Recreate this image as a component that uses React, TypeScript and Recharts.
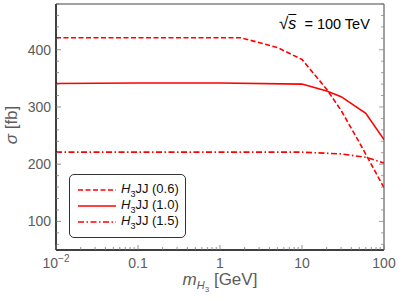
import { LineChart, Line, XAxis, YAxis, Legend } from 'recharts';

// sigma [fb] vs m_H3 [GeV], sqrt(s) = 100 TeV
const massA = [0.01, 0.1, 1, 1.8, 5, 10, 20, 30, 50, 100];
const sigmaA = [421, 421, 421, 421, 404, 383, 331, 294, 238, 159];

const massB = [0.01, 0.1, 1, 10, 20, 30, 60, 100];
const sigmaB = [341, 342, 342, 340, 328, 318, 289, 243];

const massC = [0.01, 0.1, 1, 10, 30, 60, 100];
const sigmaC = [221, 221, 221, 221, 218, 212, 202];

const seriesNames = ['(0.6)', '(1.0)', '(1.5)'];
const dashes = ['5 2.5', '', '6 2.5 1.5 2.5'];

const xMajor = [0.01, 0.1, 1, 10, 100];
const xMinor = [0.02, 0.03, 0.04, 0.05, 0.06, 0.07, 0.08, 0.09, 0.2, 0.3, 0.4, 0.5, 0.6, 0.7, 0.8, 0.9,
  2, 3, 4, 5, 6, 7, 8, 9, 20, 30, 40, 50, 60, 70, 80, 90];
const yMajor = [100, 200, 300, 400];
const yMinor = [60, 80, 120, 140, 160, 180, 220, 240, 260, 280, 320, 340, 360, 380, 420, 440, 460, 480];

const xTicks = [...xMajor, ...xMinor].sort((a, b) => a - b);
const yTicks = [...yMajor, ...yMinor].sort((a, b) => a - b);

const toRows = (xs: number[], ys: number[]) => xs.map((m, i) => ({ m, s: ys[i] }));
const rowsA = toRows(massA, sigmaA);
const rowsB = toRows(massB, sigmaB);
const rowsC = toRows(massC, sigmaC);

const font = '"Liberation Sans", Arial, sans-serif';
const grey = '#5c5c5c';
const red = '#ff0000';
const frame = '#444';

// ticks point inward; the tick's (x, y) sits on the frame because tickSize = tickMargin = 0
function FrameTick({ x, y, payload, side }: any) {
  const v = payload.value;
  const major = side === 'bottom' || side === 'top' ? xMajor.includes(v) : yMajor.includes(v);
  const len = major ? 5 : 3;
  const col = side === 'bottom' || side === 'left' ? '#777' : '#888';
  if (side === 'bottom') {
    return (
      <g>
        <line x1={x} y1={y} x2={x} y2={y - len} stroke={col} strokeWidth={0.8} />
        {major && (
          <text x={x} y={y + 18} textAnchor="middle" fontSize={14} fill={grey} fontFamily={font}>
            {v === 0.01 ? (<>10<tspan dy={-6} fontSize={10}>−2</tspan></>) : String(v)}
          </text>
        )}
      </g>
    );
  }
  if (side === 'top') {
    return <line x1={x} y1={y} x2={x} y2={y + len} stroke={col} strokeWidth={0.8} />;
  }
  if (side === 'left') {
    return (
      <g>
        <line x1={x} y1={y} x2={x + len} y2={y} stroke={col} strokeWidth={0.8} />
        {major && (
          <text x={x - 5} y={y + 5} textAnchor="end" fontSize={14} fill={grey} fontFamily={font}>
            {v}
          </text>
        )}
      </g>
    );
  }
  return <line x1={x} y1={y} x2={x - len} y2={y} stroke={col} strokeWidth={0.8} />;
}

function LegendBox() {
  return (
    <div style={{ width: 117, height: 64, border: '1px solid #333', borderRadius: 5, background: '#fff', boxSizing: 'border-box', padding: '7px 0 0 8px', fontFamily: font, fontSize: 13 }}>
      {seriesNames.map((n, i) => (
        <div key={n} style={{ display: 'flex', alignItems: 'center', height: 16 }}>
          <svg width={38} height={6}>
            <line x1={0} y1={3} x2={38} y2={3} stroke={red} strokeWidth={1.6} strokeDasharray={dashes[i]} />
          </svg>
          <span style={{ marginLeft: 5, color: '#111' }}>
            <i>H</i><sub style={{ fontSize: 9 }}>3</sub>JJ {n}
          </span>
        </div>
      ))}
    </div>
  );
}

const logX = { type: 'number' as const, scale: 'log' as const, domain: [0.01, 100], allowDataOverflow: true, ticks: xTicks, interval: 0 as const };
const linY = { type: 'number' as const, domain: [50, 480], allowDataOverflow: true, ticks: yTicks, interval: 0 as const };

const sub = (size: number, drop: number) => ({ fontSize: size, position: 'relative' as const, top: drop, lineHeight: 0 });

export default function App() {
  return (
    <div style={{ position: 'absolute', left: 0, top: 0, width: 399, height: 302, background: '#fff' }}>
      <LineChart width={399} height={302} margin={{ top: 3, right: 14, bottom: 0, left: 0 }}>
        <XAxis xAxisId="b" orientation="bottom" dataKey="m" {...logX} height={52}
          axisLine={{ stroke: '#000', strokeWidth: 1.5 }} tickLine={false} tickSize={0} tickMargin={0}
          tick={(p: any) => <FrameTick {...p} side="bottom" />} />
        <XAxis xAxisId="t" orientation="top" {...logX} height={1}
          axisLine={{ stroke: frame, strokeWidth: 1 }} tickLine={false} tickSize={0} tickMargin={0}
          tick={(p: any) => <FrameTick {...p} side="top" />} />
        <YAxis yAxisId="l" orientation="left" {...linY} width={56}
          axisLine={{ stroke: '#000', strokeWidth: 1.5 }} tickLine={false} tickSize={0} tickMargin={0}
          tick={(p: any) => <FrameTick {...p} side="left" />} />
        <YAxis yAxisId="r" orientation="right" {...linY} width={1}
          axisLine={{ stroke: frame, strokeWidth: 1 }} tickLine={false} tickSize={0} tickMargin={0}
          tick={(p: any) => <FrameTick {...p} side="right" />} />
        <Line xAxisId="b" yAxisId="l" data={rowsA} dataKey="s" type="linear" stroke={red} strokeWidth={1.6}
          strokeDasharray={dashes[0]} dot={false} isAnimationActive={false} />
        <Line xAxisId="b" yAxisId="l" data={rowsB} dataKey="s" type="linear" stroke={red} strokeWidth={1.6}
          dot={false} isAnimationActive={false} />
        <Line xAxisId="b" yAxisId="l" data={rowsC} dataKey="s" type="linear" stroke={red} strokeWidth={1.6}
          strokeDasharray={dashes[2]} dot={false} isAnimationActive={false} />
        <Legend layout="vertical" align="center" verticalAlign="middle" content={<LegendBox />}
          wrapperStyle={{ left: 69, top: 174, width: 'auto' }} />
      </LineChart>
      <div style={{ position: 'absolute', left: 279, top: 15, fontFamily: font, fontSize: 14.5, lineHeight: '17px', color: '#000', whiteSpace: 'nowrap' }}>
        <span style={{ fontSize: 17 }}>√</span><span style={{ textDecoration: 'overline', fontStyle: 'italic', fontSize: 16 }}>s</span>{'  '}&nbsp;= 100 TeV
      </div>
      <div style={{ position: 'absolute', left: 11, top: 125, transform: 'translate(-50%, -50%) rotate(-90deg)', fontFamily: font, fontSize: 17, lineHeight: '17px', color: grey, whiteSpace: 'nowrap' }}>
        <i>σ</i> [fb]
      </div>
      <div style={{ position: 'absolute', left: 220, top: 271, transform: 'translateX(-50%)', fontFamily: font, fontSize: 17, lineHeight: '17px', color: grey, whiteSpace: 'nowrap' }}>
        <i>m</i><span style={sub(11, 4)}><i>H</i><span style={sub(8, 3)}>3</span></span> [GeV]
      </div>
    </div>
  );
}
